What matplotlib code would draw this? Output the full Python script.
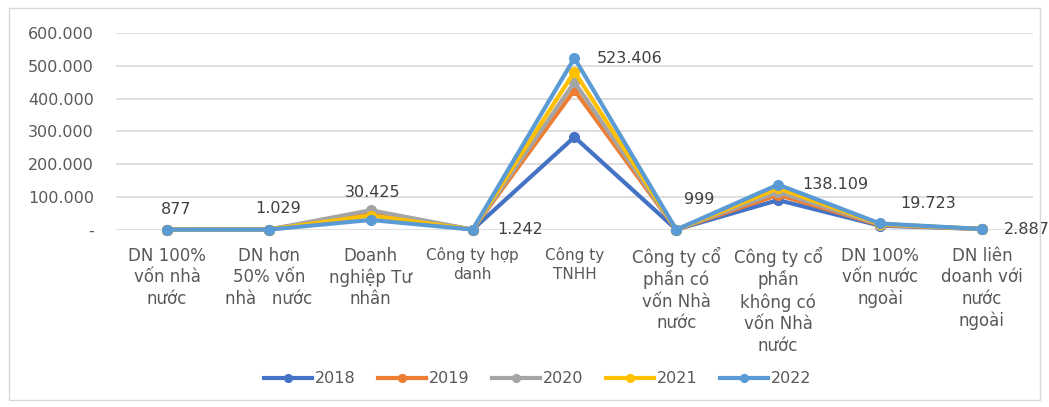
import matplotlib
matplotlib.use('Agg')
import matplotlib.pyplot as plt
import matplotlib.patches as patches
from matplotlib.ticker import FuncFormatter

# categories (Vietnamese enterprise types)
categories = ['DN 100%\nvốn nhà\nnước', 'DN hơn\n50% vốn\nnhà   nước', 'Doanh\nnghiệp Tư\nnhân',
              'Công ty hợp\ndanh', 'Công ty\nTNHH', 'Công ty cổ\nphần có\nvốn Nhà\nnước',
              'Công ty cổ\nphần\nkhông có\nvốn Nhà\nnước', 'DN 100%\nvốn nước\nngoài',
              'DN liên\ndoanh với\nnước\nngoài']
small_labels = [3, 4]

years = ['2018', '2019', '2020', '2021', '2022']
v2018 = [1100, 1300, 48000, 900, 283000, 1200, 91000, 13000, 2900]
v2019 = [1050, 1250, 54000, 1000, 426000, 1150, 107000, 15000, 2900]
v2020 = [1000, 1200, 60000, 1100, 450000, 1100, 116000, 16500, 2900]
v2021 = [950, 1100, 44000, 1150, 482000, 1050, 127000, 18000, 2900]
v2022 = [877, 1029, 30425, 1242, 523406, 999, 138109, 19723, 2887]
series = [v2018, v2019, v2020, v2021, v2022]
colors = ['#4472C4', '#ED7D31', '#A5A5A5', '#FFC000', '#5B9BD5']

# label offsets (points) for 2022 data labels
label_offsets = [(6.5, 14.5), (7, 15), (1.5, 20), (34, 0), (40, 0), (16.5, 21.5), (41, 0),
                 (34.5, 14.5), (32, 0)]


def fmt(v, pos=None):
    if v == 0:
        return '-'
    return f'{int(v):,}'.replace(',', '.')


fig = plt.figure(figsize=(10.49, 4.07), dpi=100)
fig.patches.append(patches.Rectangle((0.009, 0.018), 0.982, 0.962, transform=fig.transFigure,
                                     fill=False, edgecolor='#D9D9D9', linewidth=1))
ax = fig.add_axes([0.1106, 0.435, 0.874, 0.484])

x = list(range(len(categories)))
for name, vals, c in zip(years, series, colors):
    ax.plot(x, vals, color=c, linewidth=3, marker='o', markersize=7, label=name, clip_on=False,
            zorder=3)

for i, v in enumerate(v2022):
    ax.annotate(fmt(v), (i, v), xytext=label_offsets[i], textcoords='offset points',
                ha='center', va='center', fontsize=11.5, color='#404040', annotation_clip=False)

ax.set_xlim(-0.5, len(categories) - 0.5)
ax.set_ylim(0, 600000)
ax.set_yticks(range(0, 600001, 100000))
ax.yaxis.set_major_formatter(FuncFormatter(fmt))
ax.grid(axis='y', color='#D9D9D9', linewidth=1.2)
ax.set_axisbelow(True)
for s in ax.spines.values():
    s.set_visible(False)
ax.tick_params(axis='y', length=0, labelsize=11.5, labelcolor='#595959', pad=16)
ax.tick_params(axis='x', length=0, pad=12)
ax.set_xticks(x)
ax.set_xticklabels(categories, fontsize=12, color='#595959', linespacing=1.25, va='top')
for i, t in enumerate(ax.get_xticklabels()):
    if i in small_labels:
        t.set_fontsize(11)
        t.set_linespacing(1.35)

ax.legend(loc='center', bbox_to_anchor=(0.46, -0.755), ncol=5, frameon=False, fontsize=11.5,
          labelcolor='#595959', handlelength=3, columnspacing=1.4, handletextpad=0.2,
          markerscale=0.8)

fig.savefig('out.png', dpi=100)
